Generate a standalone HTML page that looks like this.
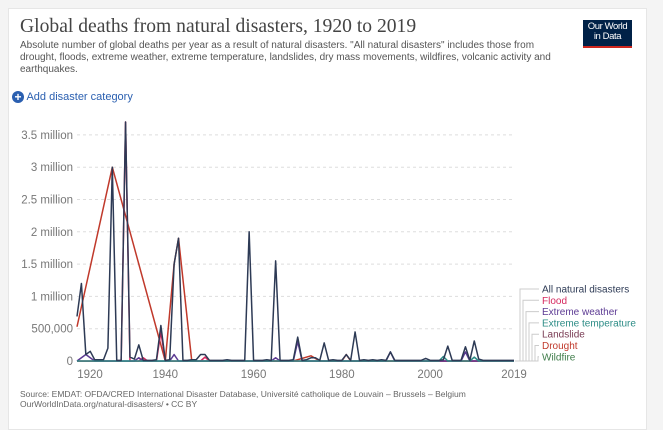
<!DOCTYPE html>
<html><head><meta charset="utf-8"><style>
body{margin:0;width:663px;height:415px;background:#f4f4f4;font-family:"Liberation Sans",sans-serif;overflow:hidden}
#card{position:absolute;left:8px;top:8px;width:637px;height:420px;background:#fff;border:1px solid #e6e6e6}
.t{position:absolute;white-space:nowrap}
</style></head><body>
<div id="card"></div>
<div class="t" style="left:20px;top:16px;font-family:'Liberation Serif',serif;font-size:19.6px;color:#444">Global deaths from natural disasters, 1920 to 2019</div>
<div class="t" style="left:20px;top:40px;font-size:10px;line-height:12px;color:#555;white-space:normal;width:540px">Absolute number of global deaths per year as a result of natural disasters. "All natural disasters" includes those from drought, floods, extreme weather, extreme temperature, landslides, dry mass movements, wildfires, volcanic activity and earthquakes.</div>
<div style="position:absolute;left:583px;top:20px;width:49px;height:28px;background:#002147;border-bottom:2px solid #ce261e;color:#fff;font-size:9.5px;line-height:10px;text-align:center;padding-top:2px;box-sizing:border-box;letter-spacing:-0.4px">Our World<br>in Data</div>
<div class="t" style="left:12px;top:91px;font-size:11px;color:#2a5fb0">
<span style="display:inline-block;width:12px;height:12px;border-radius:50%;background:#2a5fb0;color:#fff;font-size:12px;line-height:12px;text-align:center;vertical-align:-1px;font-weight:bold">+</span> Add disaster category</div>
<svg id="chart" width="663" height="415" style="position:absolute;left:0;top:0"></svg>
<div class="t" style="left:20px;top:389px;font-size:8.5px;line-height:10px;color:#666">Source: EMDAT: OFDA/CRED International Disaster Database, Université catholique de Louvain – Brussels – Belgium<br>OurWorldInData.org/natural-disasters/ • CC BY</div>
<script>
const years=[];for(let y=1920;y<=2019;y++)years.push(y);
const allDisasters=[0.69,1.2,0.1,0.15,0.02,0.02,0.02,0.2,3.0,0.01,0.01,3.7,0.06,0.03,0.25,0.01,0.01,0.01,0.02,0.55,0.01,0.02,1.5,1.9,0.01,0.01,0.02,0.02,0.1,0.1,0.01,0.01,0.01,0.01,0.02,0.01,0.01,0.01,0.01,2.0,0.01,0.01,0.01,0.02,0.01,1.55,0.01,0.01,0.01,0.02,0.37,0.01,0.02,0.05,0.05,0.01,0.28,0.01,0.02,0.01,0.01,0.1,0.01,0.45,0.01,0.02,0.01,0.02,0.01,0.02,0.01,0.14,0.01,0.01,0.01,0.01,0.01,0.01,0.01,0.04,0.01,0.01,0.01,0.02,0.23,0.01,0.01,0.01,0.22,0.01,0.31,0.03,0.01,0.01,0.01,0.01,0.01,0.01,0.01,0.01];
const floodYears=[1920,1930,1931,1932,1934,1935,1936,1938,1939,1940,1948,1949,1950,2019];
const floodVals=[0,0,3.7,0,0,0.05,0,0,0.45,0,0,0.06,0,0];
const weatherYears=[1920,1922,1924,1933,1934,1935,1941,1942,1943,1964,1965,1966,1969,1970,1971,1990,1991,1992,2007,2008,2009,2019];
const weatherVals=[0,0.1,0,0,0.05,0,0,0.1,0,0,0.05,0,0,0.3,0,0,0.14,0,0,0.14,0,0];
const tempYears=[1920,2002,2003,2004,2009,2010,2011,2019];
const tempVals=[0,0,0.07,0,0,0.06,0,0];
const droughtYears=[1920,1928,1940,1942,1943,1946,1969,1973,1975,1980,1981,1982,2019];
const droughtVals=[0.53,3.0,0,1.5,1.9,0,0,0.08,0,0,0.1,0,0];
const yTicks=[0,0.5,1,1.5,2,2.5,3,3.5];
const yTickLabels=["0","500,000","1 million","1.5 million","2 million","2.5 million","3 million","3.5 million"];
const xTicks=[1920,1940,1960,1980,2000,2019];
const legendNames=["All natural disasters","Flood","Extreme weather","Extreme temperature","Landslide","Drought","Wildfire"];
const legendColors=["#2d3a55","#d6285e","#5c3a93","#2c8c86","#7a3c54","#c0392b","#3f7c4a"];

const svg=document.getElementById('chart');const NS='http://www.w3.org/2000/svg';
const X=y=>77+(y-1920)*(514-77)/99, Y=v=>361-v*64.6;
function el(t,a){const e=document.createElementNS(NS,t);for(const k in a)e.setAttribute(k,a[k]);svg.appendChild(e);return e;}
yTicks.forEach((v,i)=>{
 if(v>0){const g=el('line',{x1:77,x2:514,y1:Y(v),y2:Y(v),stroke:'#ddd','stroke-dasharray':'3,3'});
 
 }
 const t=el('text',{x:73,y:Y(v)+4,'text-anchor':'end','font-size':11.5,fill:'#777','font-family':'Liberation Sans'});t.textContent=yTickLabels[i];
 
 
});
xTicks.forEach(y=>{const t=el('text',{x:Math.max(X(y),90),y:378,'text-anchor':'middle','font-size':11.5,fill:'#777','font-family':'Liberation Sans'});t.textContent=y;
 
 });
const ax=el('line',{x1:77,x2:514,y1:361.5,y2:361.5,stroke:'#999'});


function series(ys,vs,c,name){const p=el('polyline',{points:ys.map((y,i)=>X(y)+','+Y(vs[i])).join(' '),fill:'none',stroke:c,'stroke-width':1.5,'stroke-linejoin':'round'});
 
 }
series(droughtYears,droughtVals,legendColors[5],'drought-line');
series(floodYears,floodVals,legendColors[1],'flood-line');
series(weatherYears,weatherVals,legendColors[2],'extreme-weather-line');
series(tempYears,tempVals,legendColors[3],'extreme-temperature-line');
series(years,allDisasters,legendColors[0],'all-natural-disasters-line');
legendNames.forEach((n,i)=>{const ly=289+i*11.3, vx=520+i*3;
 const c=el('polyline',{points:`515,361 ${vx},361 ${vx},${ly} 539,${ly}`,fill:'none',stroke:'#ccc','stroke-width':1});
 
 
 const t=el('text',{x:542,y:ly+3.5,'font-size':10,fill:legendColors[i],'font-family':'Liberation Sans'});t.textContent=n;
 
 });
</script>
</body></html>
